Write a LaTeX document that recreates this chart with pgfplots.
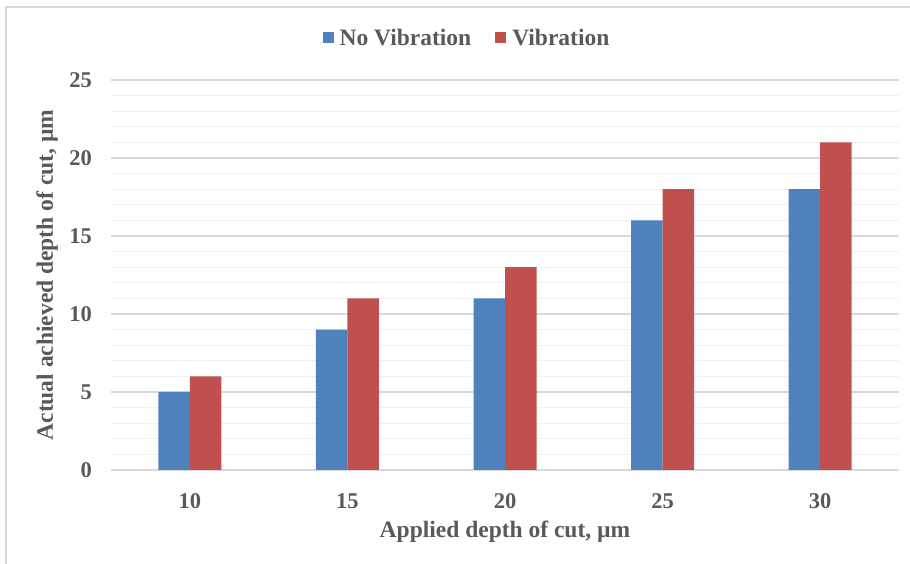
\documentclass[border=0pt]{standalone}
\usepackage{fontspec}
\setmainfont{Liberation Serif}
\usepackage{pgfplots}
\pgfplotsset{compat=1.18}
\definecolor{nov}{HTML}{4F81BD}
\definecolor{vib}{HTML}{C0504D}
\definecolor{txt}{HTML}{595959}
\definecolor{majg}{HTML}{D9D9D9}
\definecolor{ming}{HTML}{F0F0F0}
\begin{document}
\begin{tikzpicture}[x=1pt,y=1pt]
\useasboundingbox (0,0) rectangle (910,564);
\draw[majg, line width=2pt] (6,0) -- (6,557) -- (910,557);
\begin{axis}[
  at={(111pt,94pt)}, anchor=south west,
  scale only axis, width=788pt, height=390pt,
  xmin=7.5, xmax=32.5, ymin=0, ymax=25,
  ybar=0pt, bar width=31.5pt,
  xtick={10,15,20,25,30},
  ytick={0,5,10,15,20,25},
  minor y tick num=4,
  ymajorgrids, yminorgrids,
  major grid style={majg, line width=1.2pt},
  minor grid style={ming, line width=1.2pt},
  axis line style={draw=none},
  major tick length=0pt, minor tick length=0pt,
  /pgf/number format/assume math mode=true,
  tick label style={font=\fontsize{22.5}{26}\selectfont\bfseries, text=txt, inner sep=0pt},
  yticklabel style={anchor=east, xshift=-19pt},
  xticklabel style={anchor=north, yshift=-23pt},
  label style={font=\fontsize{23.5}{27}\selectfont\bfseries, text=txt},
  xlabel={Applied depth of cut, µm},
  xlabel style={at={(axis description cs:0.5,-0.159)}, anchor=center},
  ylabel={Actual achieved depth of cut, µm},
  ylabel style={at={(axis description cs:-0.0812,0.5)}, anchor=center},
  legend columns=2,
  legend style={at={(axis description cs:0.4518,1.1077)}, anchor=center, draw=none, fill=none,
    font=\fontsize{23.5}{27}\selectfont\bfseries, text=txt,
    /tikz/every odd column/.append style={column sep=4pt},
    /tikz/every even column/.append style={column sep=22pt}},
  legend image code/.code={\fill[#1] (0pt,-5.5pt) rectangle (11pt,5.5pt);},
]
\addplot[fill=nov, draw=none] coordinates {(10,5) (15,9) (20,11) (25,16) (30,18)};
\addplot[fill=vib, draw=none] coordinates {(10,6) (15,11) (20,13) (25,18) (30,21)};
\legend{No Vibration, Vibration}
\end{axis}
\end{tikzpicture}
\end{document}
